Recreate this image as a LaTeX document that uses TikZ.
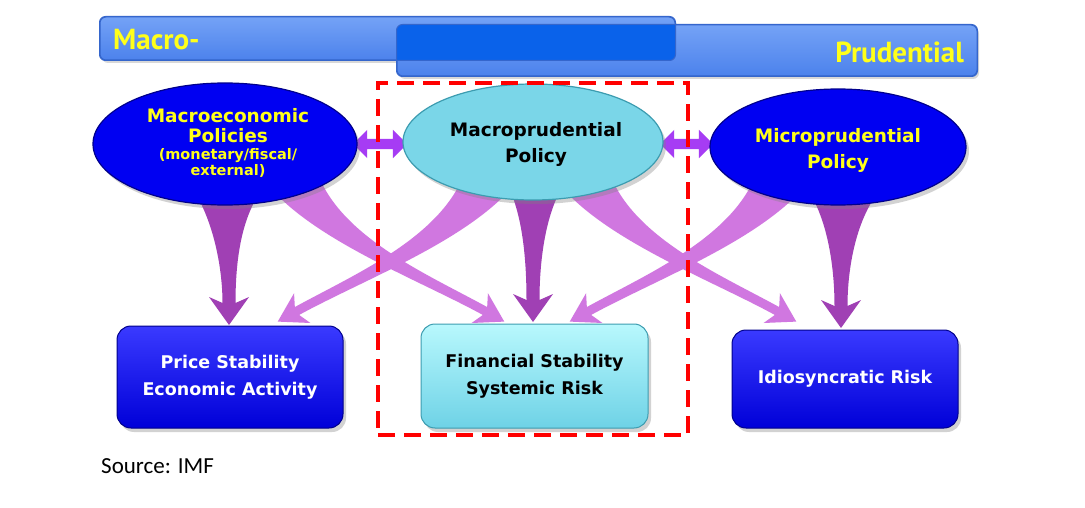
\documentclass[tikz,border=0pt]{standalone}
\usepackage{fontspec}
\usetikzlibrary{calc,shadows,shapes.geometric,shapes.arrows}
\newfontfamily\dv{DejaVu Sans}
\newfontfamily\pts{PT Sans}
\newfontfamily\carl{Carlito}
\definecolor{barblue}{HTML}{4C82EC}
\definecolor{bartop}{HTML}{74A2F6}
\definecolor{barline}{HTML}{3566CC}
\definecolor{ovl}{HTML}{0A62EA}
\definecolor{ylw}{HTML}{FFFF1A}
\definecolor{eblue}{HTML}{0000F2}
\definecolor{eline}{HTML}{00008C}
\definecolor{ecyan}{HTML}{7AD6E8}
\definecolor{ecline}{HTML}{3C9CB0}
\definecolor{btop}{HTML}{3A3AFF}
\definecolor{bbot}{HTML}{0000D8}
\definecolor{ctop}{HTML}{B8F8FD}
\definecolor{cbot}{HTML}{6ED2E6}
\definecolor{darkarr}{HTML}{A040B4}
\definecolor{lightarr}{HTML}{D077E0}
\definecolor{dblarr}{HTML}{A63CF4}
\def\hw{20pt}
% #1 colour, #2 P0, #3 C1, #4 C2, #5 P3, #6 w0, #7 wm, #8 w1
\newcommand\tarrow[8]{%
  \coordinate (q) at ($#5!6pt!#4$);
  \fill[#1] ($#2!#6!90:#3$) .. controls ($#3!#7!-90:#2$) and ($#4!#8!90:#5$) .. ($#5!#8!-90:#4$)
    -- ($(q)!\hw!-90:#4$) -- ($#5!-22pt!#4$) -- ($(q)!\hw!90:#4$)
    -- ($#5!#8!90:#4$) .. controls ($#4!#8!-90:#5$) and ($#3!#7!90:#2$) .. ($#2!#6!-90:#3$) -- cycle;}
\begin{document}
\begin{tikzpicture}[x=1pt,y=-1pt,
  barbox/.style={rectangle, rounded corners=6pt, top color=bartop, bottom color=barblue, draw=barline, line width=1pt, inner sep=0pt,
     drop shadow={shadow xshift=2pt, shadow yshift=-3pt, opacity=.3}},
  bartext/.style={text=ylw, font=\pts\bfseries\fontsize{29}{30}\selectfont, inner sep=0pt},
  ell/.style={ellipse, fill=eblue, draw=eline, line width=1.2pt, inner sep=0pt,
     drop shadow={shadow xshift=3pt, shadow yshift=-4pt, opacity=.35}},
  ellc/.style={ellipse, fill=ecyan, draw=ecline, line width=1.2pt, inner sep=0pt,
     drop shadow={shadow xshift=3pt, shadow yshift=-4pt, opacity=.35}},
  etext/.style={align=center, text=ylw, inner sep=0pt, font=\dv\bfseries\fontsize{18.5}{20}\selectfont},
  esmall/.style={align=center, text=ylw, inner sep=0pt, font=\dv\bfseries\fontsize{14.5}{16}\selectfont},
  bbox/.style={rectangle, rounded corners=14pt, top color=btop, bottom color=bbot, draw=eline, line width=1pt,
     inner sep=0pt, align=center, text=white, font=\dv\bfseries\fontsize{17.5}{27}\selectfont,
     drop shadow={shadow xshift=3pt, shadow yshift=-4pt, opacity=.35}},
  cbox/.style={bbox, top color=ctop, bottom color=cbot, draw=ecline, text=black},
  dbl/.style={double arrow, fill=dblarr, inner sep=5pt, minimum width=28pt, double arrow head extend=9pt},
  reddash/.style={rectangle, draw=red, line width=4pt, dash pattern=on 17pt off 9pt, inner sep=0pt}
]
\useasboundingbox (0,0) rectangle (1085,508);
\fill[white] (0,0) rectangle (1085,508);

% header bars
\node[barbox, minimum width=575pt, minimum height=43pt] (bar1) at (387.5,38.5) {};
\node[barbox, minimum width=580pt, minimum height=51pt] (bar2) at (687,50.5) {};
\begin{scope}
  \clip[rounded corners=6pt] (bar1.north west) rectangle (bar1.south east);
  \fill[ovl, rounded corners=6pt] (bar2.north west) rectangle (bar2.south east);
\end{scope}
\draw[barline, line width=1pt, rounded corners=6pt] (bar1.north west) rectangle (bar1.south east);
\draw[barline, line width=1pt, rounded corners=6pt] (bar2.north west) rectangle (bar2.south east);
\node[bartext, anchor=west] (tmacro) at (113,40) {Macro-};
\node[bartext, anchor=east] (tprud) at (964,52) {Prudential};

% light curved arrows
\def\hw{17pt}
\tarrow{lightarr}{(295,180)}{(330,240)}{(425,278)}{(485,311)}{24pt}{8pt}{4.5pt}
\tarrow{lightarr}{(487,180)}{(452,240)}{(357,278)}{(297,311)}{24pt}{8pt}{4.5pt}
\tarrow{lightarr}{(587,180)}{(622,240)}{(717,278)}{(777,311)}{24pt}{8pt}{4.5pt}
\tarrow{lightarr}{(779,180)}{(744,240)}{(649,278)}{(589,311)}{24pt}{8pt}{4.5pt}
% dark straight arrows
\def\hw{20pt}
\tarrow{darkarr}{(227,185)}{(226,215)}{(229,265)}{(229,303)}{38pt}{14pt}{6.5pt}
\tarrow{darkarr}{(535,185)}{(534,215)}{(533,262)}{(533,300)}{28pt}{11pt}{6.5pt}
\tarrow{darkarr}{(843,190)}{(842,220)}{(841,268)}{(841,306)}{36pt}{14pt}{6.5pt}

% double arrows
\node[dbl, minimum height=54pt] (D1) at (380,144) {};
\node[dbl, minimum height=53pt] (D2) at (686.5,144) {};

% ellipses
\node[ell, minimum width=264pt, minimum height=122pt] (E1) at (225,144) {};
\node[ellc, minimum width=260pt, minimum height=116pt] (E2) at (533,142) {};
\node[ell, minimum width=256pt, minimum height=116pt] (E3) at (838,147) {};
\node[etext] (t1) at (228,126) {Macroeconomic\\Policies};
\node[esmall] (t1b) at (228,163) {(monetary/fiscal/\\external)};
\node[etext, text=black, font=\dv\bfseries\fontsize{18.5}{26}\selectfont] (t2) at (536,144) {Macroprudential\\Policy};
\node[etext, font=\dv\bfseries\fontsize{18.5}{26}\selectfont] (t3) at (838,150) {Microprudential\\Policy};

% boxes
\node[bbox, minimum width=226pt, minimum height=102pt] (B1) at (230,377) {Price Stability\\Economic Activity};
\node[cbox, minimum width=227pt, minimum height=104pt] (B2) at (534.5,376) {Financial Stability\\Systemic Risk};
\node[bbox, minimum width=226pt, minimum height=98pt] (B3) at (845,379) {Idiosyncratic Risk};

% red dashed frame
\node[reddash, minimum width=310pt, minimum height=352pt] (frame) at (533,259) {};

% source
\node[anchor=west, inner sep=0pt, font=\carl\fontsize{23}{24}\selectfont] (src) at (101,466) {Source: IMF};
\end{tikzpicture}
\end{document}
